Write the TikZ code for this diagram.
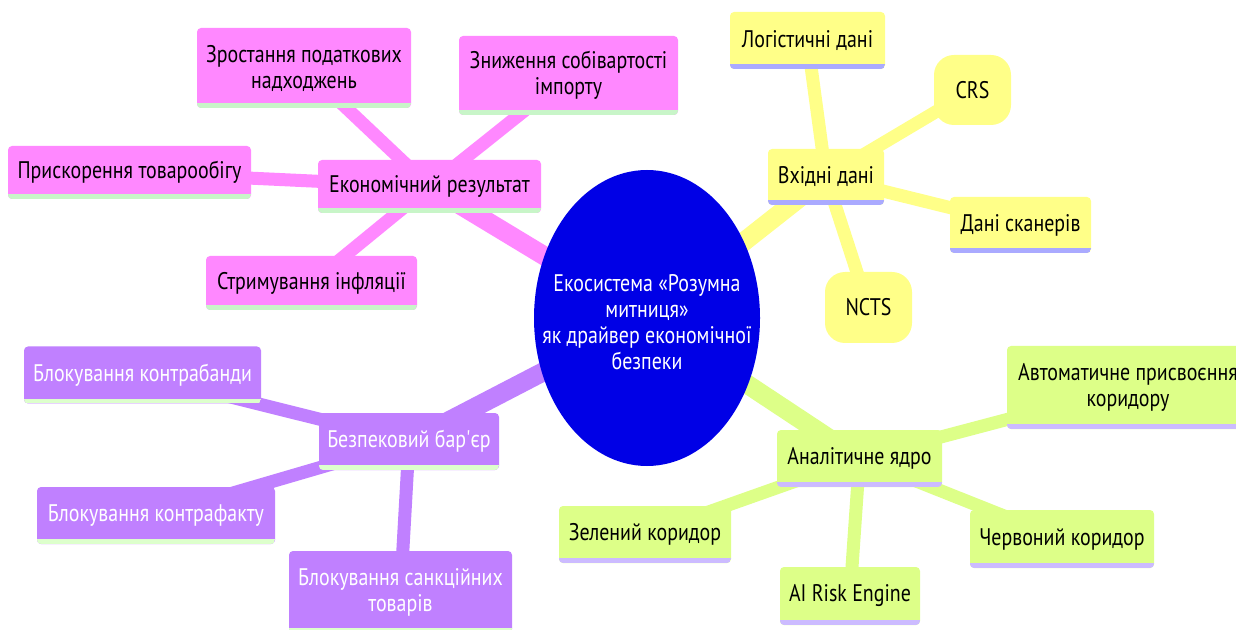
\documentclass[tikz,border=0pt]{standalone}
\usepackage{fontspec}
\usetikzlibrary{shapes.geometric}
\setmainfont{PT Sans}[FakeStretch=0.83]
\newfontfamily\plainf{PT Sans}[FakeStretch=0.83]
\definecolor{pinkF}{HTML}{FF88FF}
\definecolor{pinkU}{HTML}{C8F5C8}
\definecolor{yelF}{HTML}{FFFF88}
\definecolor{yelU}{HTML}{AAAAFF}
\definecolor{purF}{HTML}{C080FF}
\definecolor{purU}{HTML}{DDFFCC}
\definecolor{grnF}{HTML}{DDFF88}
\definecolor{grnU}{HTML}{CCBBFF}
\definecolor{coreF}{HTML}{0000E6}
\tikzset{
  basebox/.style={rounded corners=2pt, inner sep=0pt, align=center, font=\fontsize{12}{13}\selectfont},
  pinkbox/.style={basebox, fill=pinkF, text=black,
    path picture={\fill[pinkU, sharp corners] ([yshift=2.4pt]path picture bounding box.south west) rectangle (path picture bounding box.south east);}},
  yelbox/.style={basebox, fill=yelF, text=black,
    path picture={\fill[yelU, sharp corners] ([yshift=2.4pt]path picture bounding box.south west) rectangle (path picture bounding box.south east);}},
  purbox/.style={basebox, fill=purF, text=white,
    path picture={\fill[purU, sharp corners] ([yshift=2.4pt]path picture bounding box.south west) rectangle (path picture bounding box.south east);}},
  grnbox/.style={basebox, fill=grnF, text=black,
    path picture={\fill[grnU, sharp corners] ([yshift=2.4pt]path picture bounding box.south west) rectangle (path picture bounding box.south east);}},
  roundbox/.style={fill=yelF, rounded corners=10pt, inner sep=0pt, font=\fontsize{12}{13}\selectfont},
  coretext/.style={text=white, inner sep=0pt, align=center, font=\fontsize{12}{13}\selectfont},
  trunk/.style={line width=9.5pt},
  twig/.style={line width=6.5pt},
}
\begin{document}
\begin{tikzpicture}[x=0.5pt, y=-0.5pt]
\clip (0,0) rectangle (1236,630);
\fill[white] (0,0) rectangle (1236,630);
\coordinate (c) at (647,318);
% Pink
\coordinate (econC) at (429.5,186.5);
\coordinate (zrostC) at (304,68);
\coordinate (znyzhC) at (568.5,75.5);
\coordinate (pryskC) at (129.5,172.5);
\coordinate (strymC) at (311.5,283);
% Yellow
\coordinate (vkhidC) at (826,177);
\coordinate (logC) at (807.5,40.5);
\coordinate (crsC) at (972.5,90);
\coordinate (skanC) at (1020.5,225);
\coordinate (nctsC) at (868.5,307.5);
% Purple
\coordinate (bezpC) at (409,441.5);
\coordinate (kbC) at (142.5,375);
\coordinate (kfC) at (156,515.5);
\coordinate (sankC) at (400.5,592);
% Green
\coordinate (analC) at (859.5,458.5);
\coordinate (avtoC) at (1128,387.5);
\coordinate (zelC) at (645,534.5);
\coordinate (chervC) at (1062,539);
\coordinate (aiC) at (850,596);

% connectors
\draw[trunk, pinkF] (c) -- (econC);
\draw[twig, pinkF] (econC) -- (zrostC);
\draw[twig, pinkF] (econC) -- (znyzhC);
\draw[twig, pinkF] (econC) -- (pryskC);
\draw[twig, pinkF] (econC) -- (strymC);
\draw[trunk, yelF] (c) -- (vkhidC);
\draw[twig, yelF] (vkhidC) -- (logC);
\draw[twig, yelF] (vkhidC) -- (crsC);
\draw[twig, yelF] (vkhidC) -- (skanC);
\draw[twig, yelF] (vkhidC) -- (nctsC);
\draw[trunk, purF] (c) -- (bezpC);
\draw[twig, purF] (bezpC) -- (kbC);
\draw[twig, purF] (bezpC) -- (kfC);
\draw[twig, purF] (bezpC) -- (sankC);
\draw[trunk, grnF] (c) -- (analC);
\draw[twig, grnF] (analC) -- (avtoC);
\draw[twig, grnF] (analC) -- (zelC);
\draw[twig, grnF] (analC) -- (chervC);
\draw[twig, grnF] (analC) -- (aiC);

% center
\fill[coreF] (c) ellipse [x radius=56.5pt, y radius=74pt];
\node[coretext] (core) at (647,322)
  {Екосистема «Розумна\\ митниця»\\ як драйвер економічної\\ безпеки};

% pink
\node[pinkbox, minimum width=111.5pt, minimum height=26.5pt] (econ) at (econC) {Економічний результат};
\node[pinkbox, minimum width=107pt, minimum height=40pt] (zrost) at (zrostC) {Зростання податкових\\ надходжень};
\node[pinkbox, minimum width=109.5pt, minimum height=39.5pt] (znyzh) at (znyzhC) {Зниження собівартості\\ імпорту};
\node[pinkbox, minimum width=121.5pt, minimum height=26.5pt] (prysk) at (pryskC) {Прискорення товарообігу};
\node[pinkbox, minimum width=105.5pt, minimum height=27pt] (strym) at (strymC) {Стримування інфляції};
% yellow
\node[yelbox, minimum width=58pt, minimum height=28pt] (vkhid) at (vkhidC) {Вхідні дані};
\node[yelbox, minimum width=77.5pt, minimum height=28.5pt] (log) at (logC) {Логістичні дані};
\node[roundbox, minimum width=38.5pt, minimum height=35pt] (crs) at (crsC) {CRS};
\node[yelbox, minimum width=70.5pt, minimum height=28pt] (skan) at (skanC) {Дані сканерів};
\node[roundbox, minimum width=43.5pt, minimum height=35.5pt] (ncts) at (nctsC) {NCTS};
% purple
\node[purbox, minimum width=90pt, minimum height=28.5pt] (bezp) at (bezpC) {Безпековий бар{\plainf'}єр};
\node[purbox, minimum width=118.5pt, minimum height=28.5pt] (kb) at (kbC) {Блокування контрабанди};
\node[purbox, minimum width=119pt, minimum height=28.5pt] (kf) at (kfC) {Блокування контрафакту};
\node[purbox, minimum width=111.5pt, minimum height=41pt] (sank) at (sankC) {Блокування санкційних\\ товарів};
% green
\node[grnbox, minimum width=82.5pt, minimum height=28.5pt] (anal) at (analC) {Аналітичне ядро};
\node[grnbox, minimum width=121pt, minimum height=41.5pt] (avto) at (avtoC) {Автоматичне присвоєння\\ коридору};
\node[grnbox, minimum width=86pt, minimum height=28.5pt] (zel) at (zelC) {Зелений коридор};
\node[grnbox, minimum width=92pt, minimum height=29pt] (cherv) at (chervC) {Червоний коридор};
\node[grnbox, minimum width=70pt, minimum height=29pt] (ai) at (aiC) {AI Risk Engine};
\end{tikzpicture}
\end{document}
